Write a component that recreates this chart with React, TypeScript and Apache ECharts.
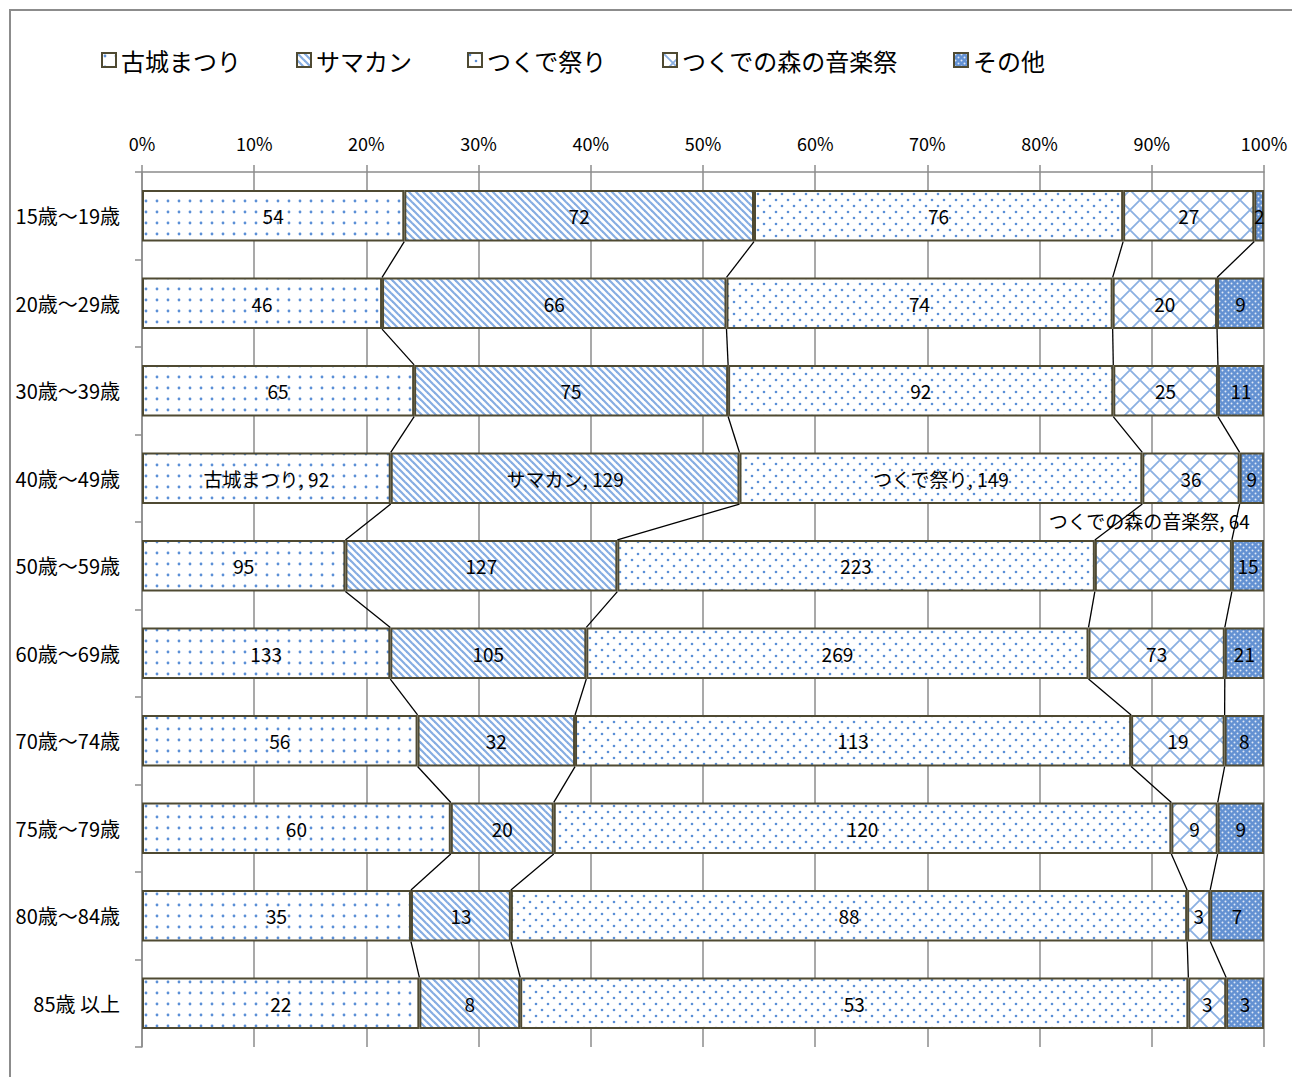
import React, { useEffect, useRef } from "react";
import * as echarts from "echarts";

const categories = ["15歳～19歳", "20歳～29歳", "30歳～39歳", "40歳～49歳", "50歳～59歳", "60歳～69歳", "70歳～74歳", "75歳～79歳", "80歳～84歳", "85歳 以上"];
const seriesNames = ["古城まつり", "サマカン", "つくで祭り", "つくでの森の音楽祭", "その他"];
const kojoMatsuri = [54, 46, 65, 92, 95, 133, 56, 60, 35, 22];
const samakan = [72, 66, 75, 129, 127, 105, 32, 20, 13, 8];
const tsukudeMatsuri = [76, 74, 92, 149, 223, 269, 113, 120, 88, 53];
const morinoOngakusai = [27, 20, 25, 36, 64, 73, 19, 9, 3, 3];
const sonota = [2, 9, 11, 9, 15, 21, 8, 9, 7, 3];
const xTicks = [0, 10, 20, 30, 40, 50, 60, 70, 80, 90, 100];

const seriesValues = [kojoMatsuri, samakan, tsukudeMatsuri, morinoOngakusai, sonota];

const FONT = "'Noto Sans CJK JP', 'Noto Sans', sans-serif";
const BORDER = "#4f4a32";

function tile(w: number, h: number, draw: (c: CanvasRenderingContext2D) => void) {
  const cv = document.createElement("canvas");
  cv.width = w;
  cv.height = h;
  const c = cv.getContext("2d") as CanvasRenderingContext2D;
  c.fillStyle = "#ffffff";
  c.fillRect(0, 0, w, h);
  draw(c);
  return { image: cv.toDataURL(), repeat: "repeat", imageWidth: w, imageHeight: h } as any;
}

function makePatterns() {
  const dot = (c: CanvasRenderingContext2D, x: number, y: number, r: number, col: string) => {
    c.fillStyle = col;
    c.beginPath();
    c.arc(x, y, r, 0, Math.PI * 2);
    c.fill();
  };
  const p1 = tile(11, 11, (c) => dot(c, 3, 3, 1.4, "#5b8fd6"));
  const p2 = tile(7, 7, (c) => {
    c.strokeStyle = "#86ade2";
    c.lineWidth = 2.2;
    for (const o of [-7, 0, 7]) {
      c.beginPath();
      c.moveTo(o - 1, -1);
      c.lineTo(o + 8, 8);
      c.stroke();
    }
  });
  const p3 = tile(12, 12, (c) => {
    dot(c, 2, 2, 1.3, "#5b8fd6");
    dot(c, 8, 8, 1.3, "#5b8fd6");
  });
  const p4 = tile(20, 20, (c) => {
    c.strokeStyle = "#8bb0e2";
    c.lineWidth = 1.8;
    c.beginPath();
    c.moveTo(0, 0);
    c.lineTo(20, 20);
    c.moveTo(20, 0);
    c.lineTo(0, 20);
    c.stroke();
  });
  const p5 = tile(6, 6, (c) => {
    c.fillStyle = "#6391d2";
    c.fillRect(0, 0, 6, 6);
    dot(c, 1.5, 1.5, 1.0, "rgba(255,255,255,0.8)");
    dot(c, 4.5, 4.5, 1.0, "rgba(255,255,255,0.8)");
  });
  return [p1, p2, p3, p4, p5];
}

export default function App() {
  const ref = useRef<HTMLDivElement>(null);
  useEffect(() => {
    if (!ref.current) return;
    const chart = echarts.init(ref.current, undefined, { renderer: "svg" });
    const patterns = makePatterns();
    const totals = categories.map((_, i) => seriesValues.reduce((s, arr) => s + arr[i], 0));
    const pct = seriesValues.map((arr) => arr.map((v, i) => (v / totals[i]) * 100));
    const cum = categories.map((_, i) => {
      const out: number[] = [];
      let s = 0;
      for (let k = 0; k < seriesValues.length; k++) {
        s += pct[k][i];
        out.push(s);
      }
      return out;
    });

    const barSeries = seriesNames.map((name, k) => ({
      name,
      type: "bar",
      stack: "total",
      barCategoryGap: "41%",
      itemStyle: { color: patterns[k], borderColor: BORDER, borderWidth: 2 },
      label: {
        show: true,
        position: "inside",
        color: "#000",
        fontSize: 19,
        fontFamily: FONT,
        formatter: (p: any) => String(seriesValues[k][p.dataIndex]),
      },
      data: pct[k].map((v, i) => {
        if (i === 3 && k < 3) {
          return { value: v, label: { formatter: (p: any) => `${name}, ${seriesValues[k][p.dataIndex]}` } };
        }
        if (i === 4 && k === 3) {
          return {
            value: v,
            label: { offset: [-14, -45], formatter: (p: any) => `${name}, ${seriesValues[k][p.dataIndex]}` },
          };
        }
        return v;
      }),
    }));

    const lineData: number[][] = [];
    for (let i = 0; i < categories.length - 1; i++) {
      for (let k = 0; k < seriesValues.length - 1; k++) {
        lineData.push([cum[i][k], i, cum[i + 1][k], i + 1]);
      }
    }

    const option: any = {
      animation: false,
      backgroundColor: "#ffffff",
      textStyle: { fontFamily: FONT },
      graphic: [
        {
          type: "rect",
          shape: { x: 10, y: 10, width: 1400, height: 1200 },
          style: { fill: "none", stroke: "#8c8c8c", lineWidth: 2 },
          silent: true,
        },
      ],
      legend: {
        data: seriesNames,
        left: 96,
        top: 43,
        itemWidth: 14,
        itemHeight: 14,
        itemGap: 55,
        icon: "rect",
        itemStyle: { borderColor: BORDER, borderWidth: 2 },
        textStyle: { fontSize: 24, color: "#000", fontFamily: FONT },
      },
      grid: { left: 142, right: 28, top: 172, bottom: 30, containLabel: false },
      xAxis: {
        type: "value",
        position: "top",
        min: 0,
        max: 100,
        interval: 10,
        axisLine: { show: true, lineStyle: { color: "#8c8c8c", width: 1.5 } },
        axisTick: { show: true, length: 7, lineStyle: { color: "#8c8c8c", width: 1.5 } },
        axisLabel: {
          margin: 20,
          fontSize: 18,
          color: "#000",
          fontFamily: FONT,
          formatter: (v: number) => (xTicks.includes(v) ? `${v}%` : ""),
        },
        splitLine: { show: true, lineStyle: { color: "#8c8c8c", width: 1.5 } },
      },
      yAxis: {
        type: "category",
        inverse: true,
        data: categories,
        axisLine: { show: true, lineStyle: { color: "#8c8c8c", width: 1.5 } },
        axisTick: { show: true, length: 7, alignWithLabel: false, lineStyle: { color: "#8c8c8c", width: 1.5 } },
        axisLabel: { margin: 22, fontSize: 20, color: "#000", fontFamily: FONT },
        splitLine: { show: false },
      },
      series: [
        ...barSeries,
        {
          name: "seriesLines",
          type: "custom",
          coordinateSystem: "cartesian2d",
          silent: true,
          z: 3,
          encode: { x: [0, 2], y: [1, 3] },
          data: lineData,
          renderItem: (params: any, api: any) => {
            const p1 = api.coord([api.value(0), api.value(1)]);
            const p2 = api.coord([api.value(2), api.value(3)]);
            const h = (api.size([0, 1])[1] * 0.59) / 2;
            return {
              type: "line",
              shape: { x1: p1[0], y1: p1[1] + h, x2: p2[0], y2: p2[1] - h },
              style: { stroke: "#000", lineWidth: 1.3 },
            };
          },
        },
      ],
    };
    chart.setOption(option);
    return () => chart.dispose();
  }, []);
  return (
    <div
      ref={ref}
      style={{ position: "fixed", left: 0, top: 0, width: 1292, height: 1077, background: "#fff" }}
    />
  );
}
